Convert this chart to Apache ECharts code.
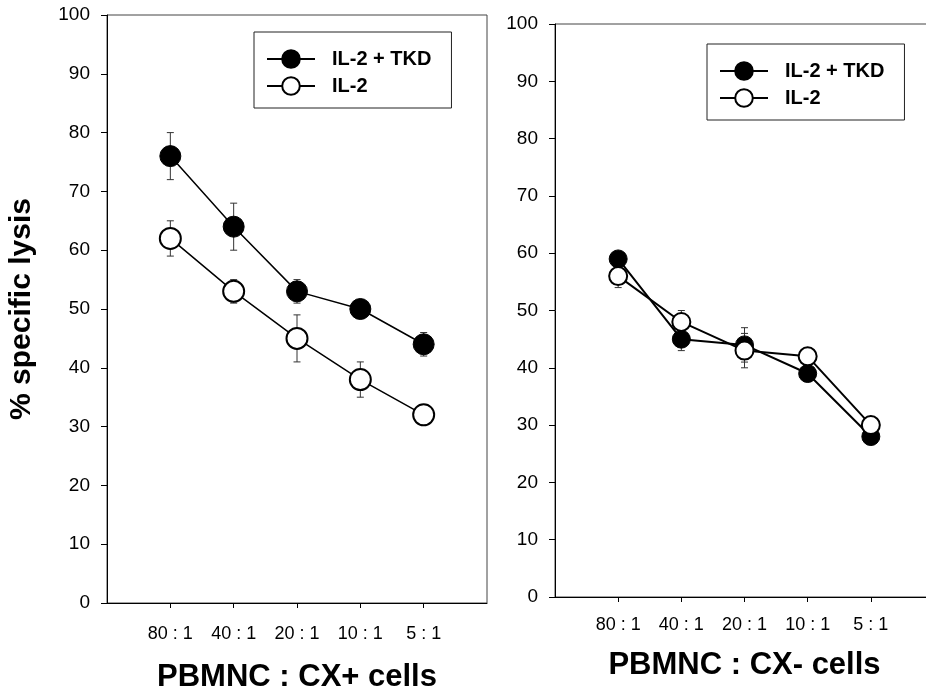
<!DOCTYPE html>
<html>
<head>
<meta charset="utf-8">
<script src="https://cdn.jsdelivr.net/npm/echarts@6/dist/echarts.min.js"></script>
<style>html,body{margin:0;padding:0;background:#fff}#c{width:926px;height:690px}</style>
</head>
<body>
<div id="c"></div>
<script>
var categories = ['80 : 1', '40 : 1', '20 : 1', '10 : 1', '5 : 1'];
var yTicks = [0, 10, 20, 30, 40, 50, 60, 70, 80, 90, 100];
var seriesNames = ['IL-2 + TKD', 'IL-2'];

// Left panel: PBMNC : CX+ cells
var leftTKD = [76, 64, 53, 50, 44];
var leftTKDErr = [4, 4, 2, 1, 2];
var leftIL2 = [62, 53, 45, 38, 32];
var leftIL2Err = [3, 2, 4, 3, 0.5];

// Right panel: PBMNC : CX- cells
var rightTKD = [59, 45, 44, 39, 28];
var rightTKDErr = [1, 2, 3, 1, 1];
var rightIL2 = [56, 48, 43, 42, 30];
var rightIL2Err = [2, 2, 3, 1, 1];

var titles = ['PBMNC : CX+ cells', 'PBMNC : CX- cells'];
var yTitle = '% specific lysis';

var FONT = 'Liberation Sans, Arial, sans-serif';
var xPos = categories.map(function (c, i) { return i + 1; });

function pts(vals) { return vals.map(function (v, i) { return [xPos[i], v]; }); }
function errs(vals, e) { return vals.map(function (v, i) { return [xPos[i], v - e[i], v + e[i]]; }); }

function errRender(params, api) {
  var x = api.value(0), lo = api.value(1), hi = api.value(2);
  var a = api.coord([x, lo]), b = api.coord([x, hi]);
  var w = 3.5, st = { stroke: '#333', lineWidth: 1 };
  return {
    type: 'group', children: [
      { type: 'line', shape: { x1: b[0], y1: b[1], x2: a[0], y2: a[1] }, style: st },
      { type: 'line', shape: { x1: b[0] - w, y1: b[1], x2: b[0] + w, y2: b[1] }, style: st },
      { type: 'line', shape: { x1: a[0] - w, y1: a[1], x2: a[0] + w, y2: a[1] }, style: st }
    ]
  };
}

function xAxis(idx, gap, labelMargin) {
  return {
    type: 'value', gridIndex: idx, min: 0, max: 6, interval: 1,
    name: titles[idx], nameLocation: 'middle', nameGap: gap,
    nameTextStyle: { fontFamily: FONT, fontSize: 31, fontWeight: 'bold', color: '#000' },
    axisLine: { lineStyle: { color: '#000', width: 1 } },
    axisTick: { show: true, length: 5, customValues: xPos, lineStyle: { color: '#000' } },
    axisLabel: {
      customValues: xPos, margin: labelMargin, fontFamily: FONT, fontSize: 18, color: '#000',
      formatter: function (v) { return categories[v - 1] || ''; }
    },
    splitLine: { show: false }
  };
}

function yAxis(idx) {
  var ax = {
    type: 'value', gridIndex: idx, min: 0, max: 100, interval: 10,
    axisLine: { show: true, lineStyle: { color: '#000', width: 1 } },
    axisTick: { show: true, length: 6, lineStyle: { color: '#000' } },
    axisLabel: { margin: 17, fontFamily: FONT, fontSize: 19, color: '#000',
      formatter: function (v) { return yTicks.indexOf(v) >= 0 ? String(v) : ''; } },
    splitLine: { show: false }
  };
  if (idx === 0) {
    ax.name = yTitle; ax.nameLocation = 'middle'; ax.nameGap = 70; ax.nameRotate = 90;
    ax.nameTextStyle = { fontFamily: FONT, fontSize: 30, fontWeight: 'bold', color: '#000' };
  }
  return ax;
}

function lineSeries(idx, name, vals, filled, size, lw) {
  return {
    type: 'line', name: name, xAxisIndex: idx, yAxisIndex: idx, data: pts(vals),
    symbol: 'circle', symbolSize: size, z: 3,
    lineStyle: { color: '#000', width: lw },
    itemStyle: { color: filled ? '#000' : '#fff', borderColor: '#000', borderWidth: filled ? 1 : 2, opacity: 1 },
    emphasis: { disabled: true }, animation: false
  };
}

function errSeries(idx, vals, e) {
  return {
    type: 'custom', xAxisIndex: idx, yAxisIndex: idx, data: errs(vals, e),
    renderItem: errRender, encode: { x: 0, y: [1, 2] }, z: 1, silent: true, animation: false
  };
}

function legend(left, top) {
  return {
    data: seriesNames, orient: 'vertical', left: left, top: top, selectedMode: false,
    itemWidth: 48, itemHeight: 22, itemGap: 5,
    padding: [16, 20, 11, 12],
    borderColor: '#222', borderWidth: 1, backgroundColor: '#fff',
    textStyle: { fontFamily: FONT, fontSize: 20, fontWeight: 'bold', color: '#000', lineHeight: 22, padding: [0, 0, 0, 12] }
  };
}

var chart = echarts.init(document.getElementById('c'), null, { renderer: 'canvas' });
chart.setOption({
  backgroundColor: '#fff',
  animation: false,
  legend: [legend(254, 32), legend(707, 44)],
  grid: [
    { left: 107, top: 15, width: 380, height: 588, show: true, borderColor: '#444', borderWidth: 1, outerBoundsMode: 'none', containLabel: false },
    { left: 555, top: 24, width: 379, height: 573, show: true, borderColor: '#444', borderWidth: 1, outerBoundsMode: 'none', containLabel: false }
  ],
  xAxis: [xAxis(0, 59, 22), xAxis(1, 53, 19)],
  yAxis: [yAxis(0), yAxis(1)],
  series: [
    errSeries(0, leftTKD, leftTKDErr),
    errSeries(0, leftIL2, leftIL2Err),
    lineSeries(0, seriesNames[0], leftTKD, true, 21, 1.5),
    lineSeries(0, seriesNames[1], leftIL2, false, 21, 1.5),
    errSeries(1, rightTKD, rightTKDErr),
    errSeries(1, rightIL2, rightIL2Err),
    lineSeries(1, seriesNames[0], rightTKD, true, 18, 2),
    lineSeries(1, seriesNames[1], rightIL2, false, 18, 2)
  ]
});
</script>
</body>
</html>
